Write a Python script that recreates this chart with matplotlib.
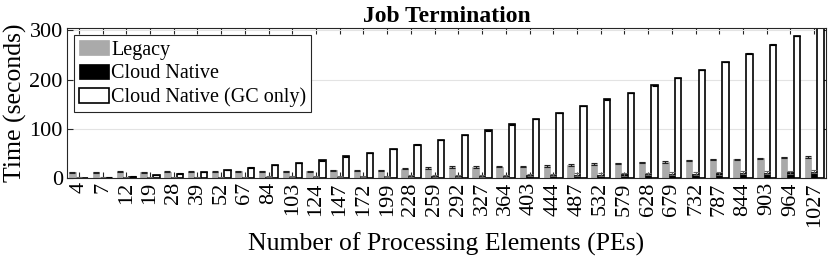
import numpy as np
import matplotlib
matplotlib.use("Agg")
import matplotlib.pyplot as plt

plt.rcParams['font.family'] = ['Liberation Serif', 'DejaVu Serif']

# Number of processing elements (categories)
pes = ["4", "7", "12", "19", "28", "39", "52", "67", "84", "103", "124", "147", "172",
       "199", "228", "259", "292", "327", "364", "403", "444", "487", "532", "579",
       "628", "679", "732", "787", "844", "903", "964", "1027"]

# Termination times (seconds)
legacy = [12, 12, 12.5, 12, 12.5, 13, 13, 14, 14, 14, 14, 16, 15, 16, 19, 20, 22, 22,
          23, 23, 24, 26, 28, 30, 32, 33, 36, 38, 38, 40, 42, 43]
cloud_native = [1, 1, 1.5, 1.5, 1.5, 2, 2, 2, 2.5, 2.5, 3, 3, 3.5, 3.5, 4, 4, 4.5, 5,
                5, 5.5, 6, 7, 7, 7.5, 8, 8.5, 9, 10, 10.5, 11, 12, 13]
gc_only = [0.5, 1, 3, 6, 9, 12, 16, 21, 26, 31, 36, 44, 51, 59, 68, 77, 87, 97, 109,
           120, 132, 146, 160, 173, 188, 203, 219, 236, 253, 271, 289, 308]

# error bars (small)
legacy_err = [1, 1, 1, 1, 1, 1, 1, 1, 1, 1, 1, 1, 1, 1, 1.5, 1.5, 1.5, 1.5, 1.5, 1.5,
              1.5, 1.5, 1.5, 1.5, 1.5, 1.5, 1.5, 1.5, 1.5, 1.5, 1.5, 1.5]
cloud_err = [0.5, 0.5, 0.5, 0.5, 0.5, 1, 1, 1, 1, 1, 1, 1, 1, 1.5, 1.5, 1.5, 1.5, 2,
             2, 2, 2, 2.5, 2.5, 2.5, 2.5, 3, 3, 3, 3, 3, 3, 3]
gc_err = [0.3, 0.3, 0.5, 0.5, 0.5, 0.5, 0.5, 0.5, 0.5, 0.5, 0.5, 0.5, 0.5, 0.5, 0.5,
          0.5, 0.5, 0.5, 0.5, 0.5, 0.5, 0.5, 0.5, 0.5, 0.5, 0.5, 0.5, 0.5, 0.5, 0.5,
          0.5, 0.5]

x = np.arange(1, len(pes) + 1)
w = 0.27
edge = '#262626'

fig = plt.figure(figsize=(8.3, 2.61), dpi=100)
ax = fig.add_axes([0.0807, 0.318, 0.9145, 0.575])

ax.grid(axis='y', color='#e3e3e3', linewidth=0.8)
ax.set_axisbelow(True)

ek = dict(elinewidth=0.8, capsize=2, capthick=0.8)
ax.bar(x - w, legacy, w, color='#aaaaaa', edgecolor='#aaaaaa', linewidth=0.5,
       yerr=legacy_err, error_kw=dict(ecolor='#222222', **ek), label='Legacy')
ax.bar(x, cloud_native, w, color='black', edgecolor='black', linewidth=0.5,
       yerr=cloud_err, error_kw=dict(ecolor='#666666', **ek), label='Cloud Native')
ax.bar(x + w, gc_only, w, color='white', edgecolor='black', linewidth=1.2,
       yerr=gc_err, error_kw=dict(ecolor='black', **ek), label='Cloud Native (GC only)')

ax.set_xlim(0.5, len(pes) + 0.5)
ax.set_ylim(0, 305)
ax.set_xticks(x)
ax.set_xticklabels(pes, rotation=90, fontsize=16)
ax.set_yticks([0, 100, 200, 300])
ax.tick_params(axis='y', labelsize=16)
ax.tick_params(direction='in', length=4, width=0.8, color=edge,
               top=True, right=True, pad=3)
for s in ax.spines.values():
    s.set_color(edge)
    s.set_linewidth(0.8)

ax.set_title('Job Termination', fontsize=17, fontweight='bold', pad=4)
ax.set_xlabel('Number of Processing Elements (PEs)', fontsize=18.5, labelpad=4)
ax.set_ylabel('Time (seconds)', fontsize=18.5, labelpad=2)

leg = ax.legend(loc='upper left', fontsize=14.5, fancybox=False, framealpha=1,
                edgecolor=edge, handlelength=1.5, handleheight=0.8,
                handletextpad=0.1, labelspacing=0.2, borderpad=0.25,
                borderaxespad=0.35)
leg.get_frame().set_linewidth(0.8)

fig.savefig('out.png', dpi=100)
